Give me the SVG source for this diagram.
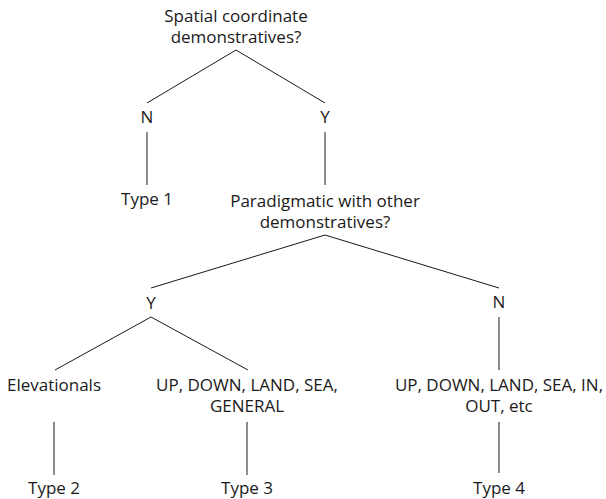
<svg xmlns="http://www.w3.org/2000/svg" width="606" height="499" viewBox="0 0 606 499">
<style>
text{font-family:"Open Sans","Noto Sans",sans-serif;font-size:17px;fill:#1a1a1a;text-anchor:middle}
.c line{stroke:#1a1a1a;stroke-width:1}
</style>
<rect width="606" height="499" fill="#fff"/>
<g class="c" id="connectors">
<line x1="236" y1="50" x2="147" y2="103"/>
<line x1="236" y1="50" x2="325" y2="103"/>
<line x1="147" y1="132" x2="147" y2="185"/>
<line x1="325" y1="132" x2="325" y2="185"/>
<line x1="325" y1="235" x2="151" y2="288"/>
<line x1="325" y1="235" x2="499" y2="288"/>
<line x1="151" y1="317" x2="55" y2="370"/>
<line x1="151" y1="317" x2="248" y2="370"/>
<line x1="499" y1="317" x2="499" y2="370"/>
<line x1="54" y1="422" x2="54" y2="475"/>
<line x1="247" y1="422" x2="247" y2="475"/>
<line x1="499" y1="422" x2="499" y2="473"/>
</g>
<g id="q1"><text x="236" y="22">Spatial coordinate<tspan x="236" y="43">demonstratives?</tspan></text></g>
<g id="n1"><text x="147" y="123">N</text></g>
<g id="y1"><text x="325" y="123">Y</text></g>
<g id="type1"><text x="147" y="205">Type 1</text></g>
<g id="q2"><text x="325" y="207">Paradigmatic with other<tspan x="325" y="228">demonstratives?</tspan></text></g>
<g id="y2"><text x="151" y="309">Y</text></g>
<g id="n2"><text x="499" y="308">N</text></g>
<g id="elev"><text x="54" y="391">Elevationals</text></g>
<g id="updown1"><text x="247" y="391">UP, DOWN, LAND, SEA,<tspan x="247" y="412">GENERAL</tspan></text></g>
<g id="updown2"><text x="499" y="391">UP, DOWN, LAND, SEA, IN,<tspan x="499" y="412">OUT, etc</tspan></text></g>
<g id="type2"><text x="54" y="494">Type 2</text></g>
<g id="type3"><text x="247" y="494">Type 3</text></g>
<g id="type4"><text x="499" y="494">Type 4</text></g>
</svg>
